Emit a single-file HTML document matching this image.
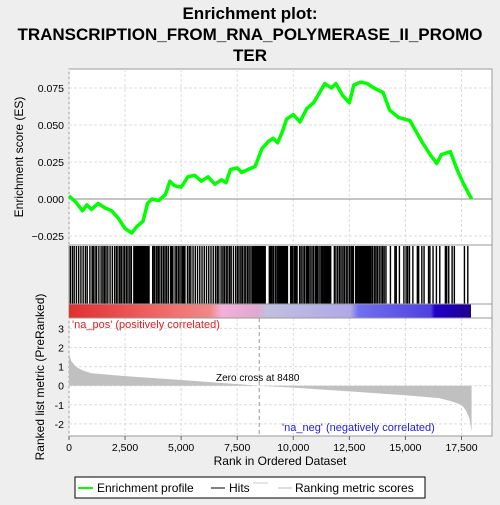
<!DOCTYPE html>
<html><head><meta charset="utf-8"><style>
body{margin:0;background:#eeeeee;font-family:"Liberation Sans",sans-serif}
svg text{font-family:"Liberation Sans",sans-serif}
</style></head><body>
<svg id="c" width="500" height="500" xmlns="http://www.w3.org/2000/svg">
<rect width="500" height="500" fill="#eeeeee"/>
<text x="250" y="19" text-anchor="middle" font-size="17" font-weight="bold" fill="#000">Enrichment plot:</text>
<text x="250" y="40" text-anchor="middle" font-size="17" font-weight="bold" fill="#000">TRANSCRIPTION_FROM_RNA_POLYMERASE_II_PROMO</text>
<text x="250" y="61" text-anchor="middle" font-size="17" font-weight="bold" fill="#000">TER</text>
<rect x="69" y="69" width="423" height="367" fill="#fff" stroke="#999"/>
<g id="grid"></g>
<g id="es"></g>
<g id="hits"></g>
<rect x="69" y="304" width="402" height="14" fill="url(#cb)"/>
<defs><linearGradient id="cb" x1="0" x2="1">
<stop offset="0" stop-color="#e03030"/><stop offset="0.2" stop-color="#f06060"/><stop offset="0.35" stop-color="#f08888"/><stop offset="0.38" stop-color="#f4b0d8"/><stop offset="0.47" stop-color="#e0a8d0"/><stop offset="0.49" stop-color="#c0c0e0"/><stop offset="0.7" stop-color="#b0a8e8"/><stop offset="0.72" stop-color="#7070f0"/><stop offset="0.9" stop-color="#5040e0"/><stop offset="0.91" stop-color="#2000c8"/><stop offset="1" stop-color="#200090"/></linearGradient></defs>
<g id="rank"></g>
<line x1="69" y1="245" x2="492" y2="245" stroke="#999"/>
<line x1="69" y1="304" x2="492" y2="304" stroke="#999"/>
<line x1="69" y1="318" x2="492" y2="318" stroke="#999"/>
<text x="72" y="328" font-size="11" fill="#e02020">'na_pos' (positively correlated)</text>
<text x="282" y="431" font-size="11" fill="#2020e0">'na_neg' (negatively correlated)</text>
<text x="216" y="381" font-size="10" fill="#000">Zero cross at 8480</text>
<text x="280" y="465" text-anchor="middle" font-size="12" fill="#000">Rank in Ordered Dataset</text>
<text transform="translate(23,157) rotate(-90)" text-anchor="middle" font-size="12" fill="#000">Enrichment score (ES)</text>
<text transform="translate(44,377) rotate(-90)" text-anchor="middle" font-size="12" fill="#000">Ranked list metric (PreRanked)</text>
<g>
<rect x="75" y="477" width="350" height="21" fill="#fff" stroke="#000"/>
<line x1="78" y1="488" x2="93" y2="488" stroke="#00ff00" stroke-width="2"/>
<text x="97" y="492" font-size="12">Enrichment profile</text>
<line x1="211" y1="488" x2="225" y2="488" stroke="#000"/>
<text x="229" y="492" font-size="12">Hits</text>
<line x1="253" y1="483" x2="268" y2="483" stroke="#ccc"/>
<line x1="278" y1="488" x2="292" y2="488" stroke="#bbb"/>
<text x="295" y="492" font-size="12">Ranking metric scores</text>
</g>
</svg>
<script>
const esRanks=[0,300,600,800,1000,1300,1600,1900,2200,2500,2800,3000,3300,3500,3700,4000,4300,4500,4700,5000,5300,5600,5900,6200,6500,6800,7000,7200,7500,7700,8000,8300,8600,8900,9100,9300,9500,9700,10000,10300,10600,10900,11100,11400,11700,11900,12200,12500,12700,13000,13300,13600,14000,14300,14700,15200,15500,15800,16100,16400,16600,17000,17300,17600,17950];
const esValues=[0.002,-0.002,-0.008,-0.004,-0.007,-0.003,-0.006,-0.008,-0.013,-0.020,-0.023,-0.019,-0.015,-0.003,0.000,-0.001,0.003,0.012,0.009,0.008,0.015,0.016,0.012,0.015,0.010,0.013,0.011,0.020,0.021,0.018,0.020,0.022,0.034,0.039,0.041,0.038,0.045,0.054,0.057,0.052,0.061,0.065,0.070,0.078,0.075,0.078,0.070,0.065,0.077,0.079,0.078,0.075,0.072,0.060,0.055,0.053,0.045,0.037,0.030,0.024,0.030,0.032,0.020,0.010,0.000];
const metricRanks=[0,100,300,600,1000,2500,5000,8480,10000,12500,15000,16500,17000,17500,17700,17850,17950];
const metricValues=[1.7,1.3,1.0,0.8,0.65,0.5,0.3,0.0,-0.1,-0.3,-0.5,-0.65,-0.8,-1.0,-1.3,-1.7,-2.4];
const hitBlocks=[[2860,3600],[8150,8780],[9360,9770],[12750,13300],[11400,11700],[4500,4650],[5050,5200],[10050,10200],[13050,13500]];
const hitSingles=[30,120,200,300,400,500,600,700,780,900,1000,1050,1130,1200,1300,1400,1480,1550,1620,1700,1800,1900,2000,2080,2150,2230,2300,2380,2450,2530,2600,2680,2750,3700,3760,3800,3880,3950,4020,4100,4180,4250,4320,4400,4500,4600,4700,4770,4850,4920,5000,5100,5250,5330,5400,5500,5600,5700,5800,5900,6000,6100,6200,6300,6400,6500,6580,6650,6750,6830,6900,6980,7050,7130,7200,7300,7400,7480,7550,7630,7700,7780,7850,7930,8000,8080,8900,8960,9000,9060,9100,9180,9250,9300,9850,9900,9950,10020,10100,10250,10320,10400,10470,10550,10600,10650,10720,10800,10870,10950,11000,11050,11120,11200,11250,11300,11350,11800,11870,11950,12030,12100,12180,12250,12330,12400,12480,12550,12600,12650,13400,13500,13580,13650,13720,13800,13880,13950,14020,14100,14300,14500,14560,14700,14900,15000,15070,15150,15300,15500,15560,15700,15800,16000,16060,16200,16350,16500,16750,16810,16900,17050,17150,17600,17750];
const esTicks=[-0.025,0,0.025,0.05,0.075];
const esTickLabels=["\u22120.025","0.000","0.025","0.050","0.075"];
const metricTicks=[-2,-1,0,1,2,3];
const xTicks=[0,2500,5000,7500,10000,12500,15000,17500];
const xTickLabels=["0","2,500","5,000","7,500","10,000","12,500","15,000","17,500"];
const NS="http://www.w3.org/2000/svg";
const X=r=>69+r*(392.5/17500);
const YE=v=>199-v*(111/0.075);
const YM=v=>385.7-v*19.1;
function mk(p,t,a){const e=document.createElementNS(NS,t);for(const k in a)e.setAttribute(k,a[k]);document.getElementById(p).appendChild(e);return e;}
xTicks.forEach((t,i)=>{
 let g=mk('grid','line',{x1:X(t),x2:X(t),y1:69,y2:245,stroke:'#ddd','stroke-dasharray':'3,2'});
 
 
 let g2=mk('grid','line',{x1:X(t),x2:X(t),y1:318,y2:436,stroke:'#ddd','stroke-dasharray':'3,2'});
 
 
 let tk=mk('grid','line',{x1:X(t),x2:X(t),y1:436,y2:440,stroke:'#666'});
 
 
 let tl=mk('grid','text',{x:X(t),y:451,'text-anchor':'middle','font-size':'10.5',fill:'#000'});tl.textContent=xTickLabels[i];
 
 
});
esTicks.forEach((t,i)=>{
 let g=mk('grid','line',{x1:69,x2:492,y1:YE(t),y2:YE(t),stroke:t===0?'#888':'#ddd','stroke-dasharray':t===0?'':'3,2'});
 
 
 let tl=mk('grid','text',{x:64,y:YE(t)+4,'text-anchor':'end','font-size':'10.5',fill:'#000'});tl.textContent=esTickLabels[i];
 
 
});
metricTicks.forEach(t=>{
 let g=mk('grid','line',{x1:69,x2:492,y1:YM(t),y2:YM(t),stroke:'#ddd','stroke-dasharray':'3,2'});
 
 
 let tl=mk('grid','text',{x:64,y:YM(t)+4,'text-anchor':'end','font-size':'10.5',fill:'#000'});tl.textContent=String(t);
 
 
});
let pts=esRanks.map((r,i)=>X(r).toFixed(1)+','+YE(esValues[i]).toFixed(1)).join(' ');
let es=mk('es','polyline',{points:pts,fill:'none',stroke:'#00ff00','stroke-width':3.5,'stroke-linejoin':'round'});


hitBlocks.forEach(b=>{
 let r=mk('hits','rect',{x:X(b[0]),y:246,width:X(b[1])-X(b[0]),height:58,fill:'#000'});
 
 
});
hitSingles.forEach(h=>{
 let l=mk('hits','rect',{x:X(h),y:246,width:1.4,height:58,fill:'#000'});
 
 
});
let ap='M'+X(0)+','+YM(0)+' '+metricRanks.map((r,i)=>'L'+X(r).toFixed(1)+','+YM(metricValues[i]).toFixed(1)).join(' ')+' L'+X(17950)+','+YM(0)+'Z';
let area=mk('rank','path',{d:ap,fill:'#c0c0c0'});


let zl=mk('rank','line',{x1:X(8480),x2:X(8480),y1:318,y2:436,stroke:'#999','stroke-dasharray':'4,3'});


</script>
</body></html>
